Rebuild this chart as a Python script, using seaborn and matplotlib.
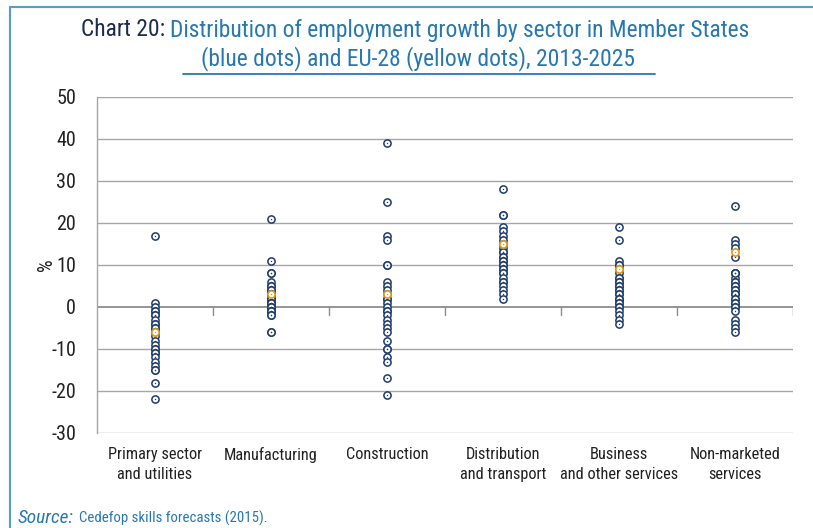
import matplotlib
matplotlib.use("Agg")
import matplotlib.pyplot as plt
import seaborn as sns
import pandas as pd
from matplotlib.lines import Line2D
from matplotlib import font_manager as fm

sectors = ["Primary sector\nand utilities", "Manufacturing", "Construction",
           "Distribution\nand transport", "Business\nand other services",
           "Non-marketed\nservices"]

# Employment growth 2013-2025 (%), one value per Member State
primary = [17, 1, 0, -1, -1, -2, -2, -3, -4, -4, -5, -5, -6, -6, -7, -8, -9,
           -10, -10, -11, -11, -12, -13, -14, -15, -15, -18, -22]
manufacturing = [21, 11, 8, 8, 6, 5, 5, 4, 4, 3, 3, 3, 2, 2, 2, 1, 1, 1, 0,
                 0, 0, -1, -1, -1, -2, -2, -6, -6]
construction = [39, 25, 17, 16, 10, 10, 6, 5, 4, 3, 2, 2, 1, 0, -1, -1, -2,
                 -3, -4, -5, -6, -8, -10, -10, -12, -13, -17, -21]
distribution = [28, 22, 22, 19, 18, 17, 16, 15, 14, 13, 13, 12, 12, 11, 11,
                10, 10, 9, 9, 8, 8, 7, 6, 6, 5, 4, 3, 2]
business = [19, 16, 11, 10, 10, 9, 8, 7, 7, 6, 6, 5, 5, 4, 4, 3, 3, 2, 2, 2,
            1, 1, 0, 0, -1, -2, -3, -4]
non_marketed = [24, 16, 15, 14, 12, 8, 8, 7, 6, 6, 5, 5, 4, 4, 3, 3, 2, 2, 1,
                1, 0, 0, -1, -3, -4, -5, -6, 8]

# EU-28 average growth per sector (%)
eu28 = [-6, 3, 3, 15, 9, 13]

member_values = [primary, manufacturing, construction, distribution, business,
                 non_marketed]
df = pd.DataFrame({
    "sector": [s for s, vals in zip(sectors, member_values) for _ in vals],
    "growth": [v for vals in member_values for v in vals],
})
df_eu = pd.DataFrame({"sector": sectors, "growth": eu28})

NAVY = "#1d3c6e"
GOLD = "#e39b15"
GRID = "#a6a6a6"
FRAME = "#5a9cc8"
BLUE = "#2878b0"
INK = "#222222"


def _find_narrow(italic=False):
    """Pick a condensed sans-serif face if one is installed."""
    prefs = ["Liberation Sans Narrow", "Roboto Condensed", "Open Sans Condensed",
             "Noto Sans", "Open Sans", "DejaVu Sans", "Roboto"]
    cands = []
    for f in fm.fontManager.ttflist:
        nm = f.name
        narrow = ("Narrow" in nm or "Condensed" in nm
                  or str(f.stretch) in ("condensed", "semi-condensed",
                                        "extra-condensed", "ultra-condensed")
                  or "Condensed" in f.fname or "Narrow" in f.fname)
        if not narrow:
            continue
        fnl = f.fname.lower()
        if any(k in fnl for k in ("bold", "light", "thin", "black", "medium",
                                  "semibold", "extrabold", "extralight")):
            continue
        is_it = ("italic" in fnl or "oblique" in fnl)
        if is_it != italic:
            continue
        rank = len(prefs)
        for i, p in enumerate(prefs):
            if nm.startswith(p):
                rank = i
                break
        semi = 1 if "semi" in fnl or "semi" in str(f.stretch) else 0
        extra = 2 if ("extra" in fnl or "ultra" in fnl) else 0
        cands.append((rank, semi + extra, f.fname))
    if not cands:
        return None
    cands.sort()
    return cands[0][2]


NARROW = _find_narrow()
NARROW_IT = _find_narrow(italic=True) or NARROW


def font(size, italic=False):
    path = NARROW_IT if italic else NARROW
    if path:
        return fm.FontProperties(fname=path, size=size)
    # no condensed face installed: smaller regular face instead
    return fm.FontProperties(family="Liberation Sans", size=size * 0.85,
                             style="italic" if italic else "normal")


sns.set_theme(style="white")
plt.rcParams["font.family"] = ["Liberation Sans", "DejaVu Sans"]

fig = plt.figure(figsize=(8.13, 5.28), dpi=100)
ax = fig.add_axes([97 / 813, (528 - 433) / 528, 696 / 813, 336 / 528])

# Member State dots: open circles with a small centre point
sns.stripplot(data=df, x="sector", y="growth", order=sectors, jitter=False,
              color="white", edgecolor=NAVY, linewidth=1.1, size=5.2, ax=ax,
              zorder=3)
sns.stripplot(data=df, x="sector", y="growth", order=sectors, jitter=False,
              color=NAVY, size=1.0, ax=ax, zorder=4)
# EU-28 dots
sns.stripplot(data=df_eu, x="sector", y="growth", order=sectors, jitter=False,
              color="white", edgecolor=GOLD, linewidth=1.2, size=5.2, ax=ax,
              zorder=5)
sns.stripplot(data=df_eu, x="sector", y="growth", order=sectors, jitter=False,
              color=GOLD, size=1.0, ax=ax, zorder=6)

ax.set_ylim(-30, 50)
ax.set_xlim(-0.5, 5.5)
ax.set_yticks(range(-30, 51, 10))
ax.set_yticklabels([str(v) for v in range(-30, 51, 10)], color=INK,
                   fontproperties=font(14.5))
ax.set_xticks(range(len(sectors)))
ax.set_xticklabels(sectors, color=INK, linespacing=1.4,
                   fontproperties=font(11.8))
ax.tick_params(axis="x", length=0, pad=10)
ax.tick_params(axis="y", length=0, pad=15)
ax.set_xlabel("")
ax.set_ylabel("%", color=INK, fontproperties=font(14.5))
ax.yaxis.set_label_coords(-41 / 696, 0.5)

for side in ["top", "right", "bottom"]:
    ax.spines[side].set_visible(False)
ax.spines["left"].set_color(GRID)
ax.spines["left"].set_linewidth(1.0)

for v in range(-30, 51, 10):
    if v != 0:
        ax.axhline(v, color=GRID, linewidth=1.0, zorder=1)
# category axis crossing at zero, with separators between sectors
ax.axhline(0, color="#8c8c8c", linewidth=1.3, zorder=2)
for xb in [0.5, 1.5, 2.5, 3.5, 4.5, 5.5]:
    ax.add_line(Line2D([xb, xb], [0, -1.9], color="#8c8c8c", linewidth=1.0,
                       zorder=2))

# Frame
fig.add_artist(Line2D([10 / 813, 10 / 813], [0, 1 - 7 / 528], color=FRAME,
                      linewidth=1.5))
fig.add_artist(Line2D([10 / 813, 1], [1 - 7 / 528, 1 - 7 / 528], color=FRAME,
                      linewidth=1.5))

# Title: dark prefix followed by blue text, centred as one line
renderer = fig.canvas.get_renderer()
tfont = font(16.9)
part_a = "Chart 20: "
part_b = "Distribution of employment growth by sector in Member States"
ta = fig.text(0, 1 - 30 / 528, part_a, color="#1d2b4f", va="center",
              fontproperties=tfont)
tb = fig.text(0, 1 - 30 / 528, part_b, color=BLUE, va="center",
              fontproperties=tfont)
wa = ta.get_window_extent(renderer).width
wb = tb.get_window_extent(renderer).width
x0 = (830 - (wa + wb)) / 2
ta.set_x(x0 / 813)
tb.set_x((x0 + wa) / 813)
fig.text(418 / 813, 1 - 59 / 528,
         "(blue dots) and EU-28 (yellow dots), 2013-2025",
         color=BLUE, ha="center", va="center", fontproperties=tfont)
fig.add_artist(Line2D([183 / 813, 655 / 813], [1 - 74 / 528, 1 - 74 / 528],
                      color=BLUE, linewidth=1.3))

# Source line: italic label, then the reference, sized to the same width
s1 = fig.text(18 / 813, 1 - 518 / 528, "Source:", color=BLUE, va="center",
              fontproperties=font(11.8, italic=True))
w1 = s1.get_window_extent(renderer).width
s1.set_fontsize(11.8 * 56 / w1)
w1 = s1.get_window_extent(renderer).width
s2 = fig.text((18 + w1 + 5) / 813, 1 - 518 / 528,
              "Cedefop skills forecasts (2015).", color=BLUE, va="center",
              fontproperties=font(11.8))
w2 = s2.get_window_extent(renderer).width
s2.set_fontsize(11.8 * 187 / w2)

fig.savefig("out.png", dpi=100)
